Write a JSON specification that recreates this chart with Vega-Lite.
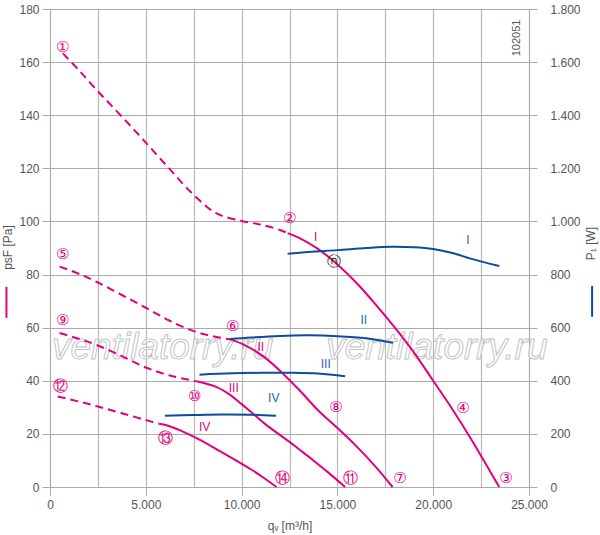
{
  "$schema": "https://vega.github.io/schema/vega-lite/v6.json",
  "width": 479,
  "height": 478,
  "autosize": {"type": "none"},
  "padding": {"left": 50, "top": 9, "right": 71, "bottom": 48},
  "background": "white",
  "config": {
    "view": {"stroke": null},
    "font": "Liberation Sans",
    "axis": {
      "labelFont": "Liberation Sans",
      "titleFont": "Liberation Sans",
      "labelFontSize": 12,
      "titleFontSize": 12,
      "labelColor": "#555555",
      "titleColor": "#555555",
      "titleFontWeight": "normal",
      "domainColor": "#aaaaaa",
      "tickColor": "#aaaaaa",
      "tickSize": 8,
      "labelFlush": false,
      "labelOverlap": false
    }
  },
  "datasets": {
    "pressure": [
      {"curve": "I", "seg": "dash", "q": 670, "p": 163.3},
      {"curve": "I", "seg": "dash", "q": 1500, "p": 157},
      {"curve": "I", "seg": "dash", "q": 2500, "p": 149},
      {"curve": "I", "seg": "dash", "q": 3750, "p": 139.5},
      {"curve": "I", "seg": "dash", "q": 5000, "p": 129.7},
      {"curve": "I", "seg": "dash", "q": 6250, "p": 119.7},
      {"curve": "I", "seg": "dash", "q": 7500, "p": 110},
      {"curve": "I", "seg": "dash", "q": 8700, "p": 103},
      {"curve": "I", "seg": "dash", "q": 10000, "p": 100.2},
      {"curve": "I", "seg": "dash", "q": 11000, "p": 98.8},
      {"curve": "I", "seg": "dash", "q": 12000, "p": 96.8},
      {"curve": "I", "seg": "dash", "q": 12400, "p": 95.6},
      {"curve": "I", "seg": "solid", "q": 12400, "p": 95.6},
      {"curve": "I", "seg": "solid", "q": 13000, "p": 93.8},
      {"curve": "I", "seg": "solid", "q": 14000, "p": 89.6},
      {"curve": "I", "seg": "solid", "q": 15000, "p": 83.8},
      {"curve": "I", "seg": "solid", "q": 16000, "p": 76.8},
      {"curve": "I", "seg": "solid", "q": 17000, "p": 68.7},
      {"curve": "I", "seg": "solid", "q": 18000, "p": 60},
      {"curve": "I", "seg": "solid", "q": 19000, "p": 50.6},
      {"curve": "I", "seg": "solid", "q": 20000, "p": 40},
      {"curve": "I", "seg": "solid", "q": 21000, "p": 29.3},
      {"curve": "I", "seg": "solid", "q": 22000, "p": 17.8},
      {"curve": "I", "seg": "solid", "q": 23000, "p": 5.5},
      {"curve": "I", "seg": "solid", "q": 23450, "p": 0},
      {"curve": "II", "seg": "dash", "q": 500, "p": 83},
      {"curve": "II", "seg": "dash", "q": 1500, "p": 80.3},
      {"curve": "II", "seg": "dash", "q": 2500, "p": 77},
      {"curve": "II", "seg": "dash", "q": 3750, "p": 72.3},
      {"curve": "II", "seg": "dash", "q": 5000, "p": 67.5},
      {"curve": "II", "seg": "dash", "q": 6250, "p": 62.6},
      {"curve": "II", "seg": "dash", "q": 7500, "p": 58.7},
      {"curve": "II", "seg": "dash", "q": 8500, "p": 56.8},
      {"curve": "II", "seg": "dash", "q": 9400, "p": 55.6},
      {"curve": "II", "seg": "solid", "q": 9400, "p": 55.6},
      {"curve": "II", "seg": "solid", "q": 10000, "p": 54},
      {"curve": "II", "seg": "solid", "q": 10600, "p": 51.7},
      {"curve": "II", "seg": "solid", "q": 11200, "p": 48.8},
      {"curve": "II", "seg": "solid", "q": 12000, "p": 43.8},
      {"curve": "II", "seg": "solid", "q": 13000, "p": 36.6},
      {"curve": "II", "seg": "solid", "q": 14000, "p": 28.8},
      {"curve": "II", "seg": "solid", "q": 15000, "p": 22.2},
      {"curve": "II", "seg": "solid", "q": 16000, "p": 15.3},
      {"curve": "II", "seg": "solid", "q": 17000, "p": 7.6},
      {"curve": "II", "seg": "solid", "q": 17880, "p": 0},
      {"curve": "III", "seg": "dash", "q": 500, "p": 58},
      {"curve": "III", "seg": "dash", "q": 1500, "p": 55.8},
      {"curve": "III", "seg": "dash", "q": 2500, "p": 53.3},
      {"curve": "III", "seg": "dash", "q": 3750, "p": 49.3},
      {"curve": "III", "seg": "dash", "q": 5000, "p": 45},
      {"curve": "III", "seg": "dash", "q": 6250, "p": 42},
      {"curve": "III", "seg": "dash", "q": 7500, "p": 40},
      {"curve": "III", "seg": "dash", "q": 7700, "p": 39.7},
      {"curve": "III", "seg": "solid", "q": 7700, "p": 39.7},
      {"curve": "III", "seg": "solid", "q": 8700, "p": 37.6},
      {"curve": "III", "seg": "solid", "q": 9400, "p": 34.7},
      {"curve": "III", "seg": "solid", "q": 10000, "p": 31.2},
      {"curve": "III", "seg": "solid", "q": 10600, "p": 27.6},
      {"curve": "III", "seg": "solid", "q": 11300, "p": 23.3},
      {"curve": "III", "seg": "solid", "q": 12500, "p": 17},
      {"curve": "III", "seg": "solid", "q": 13000, "p": 14.2},
      {"curve": "III", "seg": "solid", "q": 13730, "p": 10.1},
      {"curve": "III", "seg": "solid", "q": 14500, "p": 5.6},
      {"curve": "III", "seg": "solid", "q": 15400, "p": 0},
      {"curve": "IV", "seg": "dash", "q": 400, "p": 34.1},
      {"curve": "IV", "seg": "dash", "q": 1500, "p": 32.2},
      {"curve": "IV", "seg": "dash", "q": 2500, "p": 30.3},
      {"curve": "IV", "seg": "dash", "q": 3750, "p": 27.8},
      {"curve": "IV", "seg": "dash", "q": 5000, "p": 25.2},
      {"curve": "IV", "seg": "dash", "q": 5700, "p": 23.8},
      {"curve": "IV", "seg": "solid", "q": 5700, "p": 23.8},
      {"curve": "IV", "seg": "solid", "q": 6200, "p": 23},
      {"curve": "IV", "seg": "solid", "q": 6800, "p": 21.3},
      {"curve": "IV", "seg": "solid", "q": 7800, "p": 17.8},
      {"curve": "IV", "seg": "solid", "q": 8700, "p": 14.2},
      {"curve": "IV", "seg": "solid", "q": 9500, "p": 10.9},
      {"curve": "IV", "seg": "solid", "q": 10500, "p": 6.6},
      {"curve": "IV", "seg": "solid", "q": 11200, "p": 3.2},
      {"curve": "IV", "seg": "solid", "q": 11820, "p": 0}
    ],
    "power": [
      {"curve": "I", "q": 12400, "P": 878},
      {"curve": "I", "q": 13500, "P": 885},
      {"curve": "I", "q": 15000, "P": 892},
      {"curve": "I", "q": 16500, "P": 900},
      {"curve": "I", "q": 17800, "P": 905},
      {"curve": "I", "q": 19000, "P": 903},
      {"curve": "I", "q": 20000, "P": 896},
      {"curve": "I", "q": 21000, "P": 881},
      {"curve": "I", "q": 22000, "P": 859},
      {"curve": "I", "q": 23450, "P": 832},
      {"curve": "II", "q": 9400, "P": 557},
      {"curve": "II", "q": 10500, "P": 563},
      {"curve": "II", "q": 12000, "P": 569},
      {"curve": "II", "q": 13500, "P": 571},
      {"curve": "II", "q": 15000, "P": 568},
      {"curve": "II", "q": 16500, "P": 560},
      {"curve": "II", "q": 17900, "P": 543},
      {"curve": "III", "q": 7800, "P": 423},
      {"curve": "III", "q": 9500, "P": 428},
      {"curve": "III", "q": 11000, "P": 430},
      {"curve": "III", "q": 12500, "P": 430},
      {"curve": "III", "q": 14000, "P": 427},
      {"curve": "III", "q": 15400, "P": 417},
      {"curve": "IV", "q": 6000, "P": 268},
      {"curve": "IV", "q": 7500, "P": 271},
      {"curve": "IV", "q": 9000, "P": 273},
      {"curve": "IV", "q": 10500, "P": 272},
      {"curve": "IV", "q": 11800, "P": 268}
    ],
    "marks": [
      {"label": "①", "q": 660, "p": 165.6},
      {"label": "②", "q": 12510, "p": 101.3},
      {"label": "③", "q": 23800, "p": 3.5},
      {"label": "④", "q": 21550, "p": 29.8},
      {"label": "⑤", "q": 660, "p": 87.7},
      {"label": "⑥", "q": 9540, "p": 60.7},
      {"label": "⑦", "q": 18260, "p": 3.5},
      {"label": "⑧", "q": 14920, "p": 30.2},
      {"label": "⑨", "q": 660, "p": 62.7},
      {"label": "⑩", "q": 7550, "p": 34.4},
      {"label": "⑪", "q": 15700, "p": 3.5},
      {"label": "⑫", "q": 550, "p": 37.9},
      {"label": "⑬", "q": 6020, "p": 18.4},
      {"label": "⑭", "q": 12150, "p": 3.5}
    ],
    "romanP": [
      {"label": "I", "q": 13870, "p": 94.2},
      {"label": "II", "q": 11000, "p": 52.8},
      {"label": "III", "q": 9590, "p": 37.3},
      {"label": "IV", "q": 8070, "p": 22.7}
    ],
    "romanW": [
      {"label": "I", "q": 21810, "P": 930},
      {"label": "II", "q": 16380, "P": 630},
      {"label": "III", "q": 14390, "P": 464},
      {"label": "IV", "q": 11680, "P": 336}
    ],
    "op": [
      {"label": "ⓝ", "q": 14830, "p": 84.7}
    ],
    "watermark": [
      {"label": "ventilatorry.ru", "q": 5880, "p": 52.4},
      {"label": "ventilatorry.ru", "q": 20190, "p": 52.4}
    ],
    "code": [
      {"label": "102051", "q": 24375, "p": 169.1}
    ]
  },
  "layer": [
    {
      "layer": [
        {
          "data": {"name": "watermark"},
          "mark": {"type": "text", "font": "Liberation Sans", "fontStyle": "italic", "fontSize": 37, "fill": "#ffffff", "fillOpacity": 0.7, "stroke": "#c4c4c4", "strokeWidth": 1, "align": "center", "baseline": "middle"},
          "encoding": {
            "x": {
              "field": "q", "type": "quantitative",
              "scale": {"domain": [0, 25000], "nice": false},
              "axis": {
                "values": [0, 2500, 5000, 7500, 10000, 12500, 15000, 17500, 20000, 22500, 25000],
                "grid": true,
                "gridColor": "#b8b8b8",
                "gridWidth": 1.2,
                "labelExpr": "datum.value % 5000 === 0 ? replace(format(datum.value, ','), ',', '.') : ''",
                "tickOpacity": {"condition": {"test": "datum.value % 5000 !== 0", "value": 0}, "value": 1},
                "labelPadding": 4,
                "title": "qᵥ [m³/h]",
                "titleY": 38,
                "titleBaseline": "middle"
              }
            },
            "y": {
              "field": "p", "type": "quantitative",
              "scale": {"domain": [0, 180], "nice": false},
              "axis": {
                "values": [0, 10, 20, 30, 40, 50, 60, 70, 80, 90, 100, 110, 120, 130, 140, 150, 160, 170, 180],
                "grid": true,
                "gridColor": {"condition": {"test": "datum.value % 20 === 0", "value": "#aaaaaa"}, "value": "#d3d3d3"},
                "gridWidth": {"condition": {"test": "datum.value % 20 === 0", "value": 1}, "value": 1.6},
                "labelExpr": "datum.value % 20 === 0 ? format(datum.value, 'd') : ''",
                "tickOpacity": {"condition": {"test": "datum.value % 20 !== 0", "value": 0}, "value": 1},
                "labelPadding": 3,
                "title": "psF [Pa]",
                "titleAngle": 270,
                "titleX": -43,
                "titleY": 238,
                "titleAlign": "center",
                "titleBaseline": "middle"
              }
            },
            "text": {"field": "label"}
          }
        },
        {
          "data": {"name": "pressure"},
          "transform": [{"filter": "datum.seg === 'dash'"}],
          "mark": {"type": "line", "color": "#e4007c", "strokeWidth": 2, "strokeDash": [8, 5], "interpolate": "catmull-rom"},
          "encoding": {
            "x": {"field": "q", "type": "quantitative"},
            "y": {"field": "p", "type": "quantitative"},
            "detail": {"field": "curve"}
          }
        },
        {
          "data": {"name": "pressure"},
          "transform": [{"filter": "datum.seg === 'solid'"}],
          "mark": {"type": "line", "color": "#e4007c", "strokeWidth": 2, "interpolate": "catmull-rom"},
          "encoding": {
            "x": {"field": "q", "type": "quantitative"},
            "y": {"field": "p", "type": "quantitative"},
            "detail": {"field": "curve"}
          }
        },
        {
          "data": {"name": "marks"},
          "mark": {"type": "text", "font": "DejaVu Sans", "fontSize": 15, "color": "#e4007c", "align": "center", "baseline": "middle"},
          "encoding": {
            "x": {"field": "q", "type": "quantitative"},
            "y": {"field": "p", "type": "quantitative"},
            "text": {"field": "label"}
          }
        },
        {
          "data": {"name": "romanP"},
          "mark": {"type": "text", "font": "Liberation Sans", "fontSize": 12, "color": "#e4007c", "align": "center", "baseline": "middle"},
          "encoding": {
            "x": {"field": "q", "type": "quantitative"},
            "y": {"field": "p", "type": "quantitative"},
            "text": {"field": "label"}
          }
        },
        {
          "data": {"name": "op"},
          "mark": {"type": "text", "font": "DejaVu Sans", "fontSize": 14, "color": "#222222", "align": "center", "baseline": "middle"},
          "encoding": {
            "x": {"field": "q", "type": "quantitative"},
            "y": {"field": "p", "type": "quantitative"},
            "text": {"field": "label"}
          }
        },
        {
          "data": {"name": "code"},
          "mark": {"type": "text", "font": "Liberation Sans", "fontSize": 11, "color": "#555555", "angle": 270, "align": "center", "baseline": "middle"},
          "encoding": {
            "x": {"field": "q", "type": "quantitative"},
            "y": {"field": "p", "type": "quantitative"},
            "text": {"field": "label"}
          }
        },
        {
          "data": {"values": [{}]},
          "mark": {"type": "rule", "color": "#e4007c", "strokeWidth": 2},
          "encoding": {
            "x": {"datum": -2273, "type": "quantitative"},
            "y": {"datum": 63.7, "type": "quantitative"},
            "y2": {"datum": 75.4}
          }
        }
      ]
    },
    {
      "layer": [
        {
          "data": {"name": "power"},
          "mark": {"type": "line", "color": "#0c4d97", "strokeWidth": 2, "interpolate": "catmull-rom"},
          "encoding": {
            "x": {"field": "q", "type": "quantitative"},
            "y": {
              "field": "P", "type": "quantitative",
              "scale": {"domain": [0, 1800], "nice": false},
              "axis": {
                "orient": "right",
                "values": [0, 200, 400, 600, 800, 1000, 1200, 1400, 1600, 1800],
                "grid": false,
                "labelAlign": "left",
                "labelPadding": 13,
                "labelExpr": "replace(format(datum.value, ','), ',', '.')",
                "title": "P₁ [W]",
                "titleAngle": 270,
                "titleX": 61,
                "titleY": 234,
                "titleAlign": "center",
                "titleBaseline": "middle"
              }
            },
            "detail": {"field": "curve"}
          }
        },
        {
          "data": {"name": "romanW"},
          "mark": {"type": "text", "font": "Liberation Sans", "fontSize": 12, "color": "#2b63ad", "align": "center", "baseline": "middle"},
          "encoding": {
            "x": {"field": "q", "type": "quantitative"},
            "y": {"field": "P", "type": "quantitative"},
            "text": {"field": "label"}
          }
        },
        {
          "data": {"values": [{}]},
          "mark": {"type": "rule", "color": "#0c4d97", "strokeWidth": 2},
          "encoding": {
            "x": {"datum": 28293, "type": "quantitative"},
            "y": {"datum": 641, "type": "quantitative"},
            "y2": {"datum": 757}
          }
        }
      ]
    }
  ],
  "resolve": {"scale": {"y": "independent"}}
}
